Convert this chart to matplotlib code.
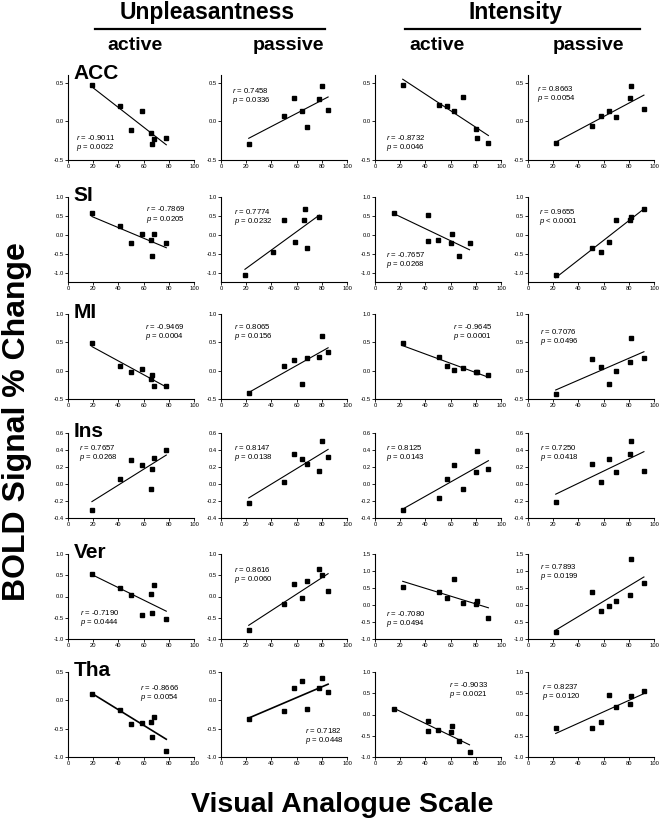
import matplotlib
matplotlib.use("Agg")
import matplotlib.pyplot as plt
import numpy as np
from matplotlib.ticker import FormatStrFormatter

plt.rcParams['font.family'] = 'Liberation Sans'
plt.rcParams['axes.unicode_minus'] = False
plt.rcParams['mathtext.fontset'] = 'custom'
plt.rcParams['mathtext.it'] = 'Liberation Sans:italic'
plt.rcParams['mathtext.rm'] = 'Liberation Sans'

# VAS ratings (x) per condition
vas_unp_act = [19, 41, 50, 59, 66, 67, 68, 78]
vas_unp_pas = [22, 50, 58, 64, 68, 78, 80, 85]
vas_int_act = [22, 51, 57, 63, 70, 80, 81, 90]
vas_int_act_b = [15, 42, 42, 50, 60, 61, 67, 75]
vas_int_pas = [22, 51, 58, 64, 70, 81, 82, 92]

regions = ['ACC', 'SI', 'MI', 'Ins', 'Ver', 'Tha']

# BOLD % change, columns: unp active, unp passive, int active, int passive
acc = [[0.47, 0.20, -0.11, 0.14, -0.15, -0.29, -0.23, -0.22],
       [-0.29, 0.07, 0.30, 0.13, -0.07, 0.29, 0.46, 0.15],
       [0.47, 0.21, 0.20, 0.13, 0.32, -0.10, -0.21, -0.28],
       [-0.28, -0.06, 0.07, 0.13, 0.06, 0.30, 0.46, 0.16]]
si = [[0.57, 0.23, -0.23, 0.02, -0.13, -0.56, 0.03, -0.21],
      [-1.06, -0.45, 0.40, -0.19, 0.38, 0.67, -0.34, 0.47],
      [0.57, 0.53, -0.17, -0.14, -0.23, 0.03, -0.56, -0.21],
      [-1.06, -0.35, -0.46, -0.20, 0.39, 0.40, 0.47, 0.67]]
mi = [[0.48, 0.08, -0.02, 0.03, -0.14, -0.07, -0.27, -0.27],
      [-0.40, 0.09, 0.18, -0.23, 0.22, 0.24, 0.61, 0.33],
      [0.48, 0.25, 0.08, 0.02, 0.05, -0.02, -0.03, -0.07],
      [-0.41, 0.21, 0.07, -0.23, -0.01, 0.16, 0.58, 0.22]]
ins = [[-0.30, 0.06, 0.28, 0.22, -0.06, 0.18, 0.31, 0.40],
       [-0.22, 0.02, 0.35, 0.30, 0.24, 0.15, 0.51, 0.32],
       [-0.30, -0.16, 0.06, 0.22, -0.06, 0.14, 0.39, 0.18],
       [-0.21, 0.24, 0.02, 0.30, 0.14, 0.35, 0.51, 0.15]]
ver = [[0.54, 0.21, 0.04, -0.44, 0.07, -0.38, 0.28, -0.52],
       [-0.79, -0.18, 0.29, -0.04, 0.37, 0.65, 0.50, 0.12],
       [0.54, 0.37, 0.20, 0.76, 0.06, 0.04, 0.11, -0.38],
       [-0.79, 0.37, -0.19, -0.04, 0.13, 0.30, 1.35, 0.64]]
tha = [[0.11, -0.17, -0.42, -0.40, -0.38, -0.64, -0.29, -0.89],
       [-0.33, -0.19, 0.21, 0.34, -0.16, 0.21, 0.39, 0.15],
       [0.12, -0.16, -0.39, -0.37, -0.41, -0.28, -0.63, -0.89],
       [-0.31, -0.32, -0.18, 0.46, 0.17, 0.24, 0.43, 0.55]]
bold = [acc, si, mi, ins, ver, tha]

# x data used in each panel
xs = [[vas_unp_act, vas_unp_pas, vas_int_act, vas_int_pas],
      [vas_unp_act, vas_unp_act, vas_int_act_b, vas_int_pas],
      [vas_unp_act, vas_unp_pas, vas_int_act, vas_int_pas],
      [vas_unp_act, vas_unp_pas, vas_int_act, vas_int_pas],
      [vas_unp_act, vas_unp_pas, vas_int_act, vas_int_pas],
      [vas_unp_act, vas_unp_pas, vas_int_act_b, vas_int_pas]]

r_txt = [['-0.9011', '0.7458', '-0.8732', '0.8663'],
         ['-0.7869', '0.7774', '-0.7657', '0.9655'],
         ['-0.9469', '0.8065', '-0.9645', '0.7076'],
         ['0.7657', '0.8147', '0.8125', '0.7250'],
         ['-0.7190', '0.8616', '-0.7080', '0.7893'],
         ['-0.8666', '0.7182', '-0.9033', '0.8237']]
p_txt = [['= 0.0022', '= 0.0336', '= 0.0046', '= 0.0054'],
         ['= 0.0205', '= 0.0232', '= 0.0268', '< 0.0001'],
         ['= 0.0004', '= 0.0156', '= 0.0001', '= 0.0496'],
         ['= 0.0268', '= 0.0138', '= 0.0143', '= 0.0418'],
         ['= 0.0444', '= 0.0060', '= 0.0494', '= 0.0199'],
         ['= 0.0054', '= 0.0448', '= 0.0021', '= 0.0120']]

# y axis range per panel
ylims = [[(-0.5, 0.6)] * 4,
         [(-1.25, 1.0)] * 4,
         [(-0.5, 1.0)] * 4,
         [(-0.4, 0.6)] * 4,
         [(-1.0, 1.0), (-1.0, 1.0), (-1.0, 1.5), (-1.0, 1.5)],
         [(-1.0, 0.5), (-1.0, 0.5), (-1.0, 1.0), (-1.0, 1.0)]]
ysteps = [0.5, 0.5, 0.5, 0.2, 0.5, 0.5]

# stats text position (axes fraction)
txt_pos = [[(0.066, 0.27), (0.085, 0.82), (0.09, 0.27), (0.075, 0.84)],
           [(0.62, 0.86), (0.10, 0.83), (0.09, 0.32), (0.088, 0.83)],
           [(0.615, 0.85), (0.10, 0.85), (0.62, 0.85), (0.093, 0.80)],
           [(0.085, 0.83), (0.10, 0.83), (0.09, 0.83), (0.093, 0.83)],
           [(0.093, 0.31), (0.10, 0.82), (0.09, 0.30), (0.093, 0.85)],
           [(0.57, 0.82), (0.67, 0.31), (0.585, 0.85), (0.115, 0.83)]]

W, H = 662, 826
fig = plt.figure(figsize=(W / 100, H / 100), dpi=100)

col_left = [68, 221, 375, 528]
row_bottom = [160, 282, 399, 518, 639, 757]
aw, ah = 126, 85

for i in range(6):
    for j in range(4):
        ax = fig.add_axes([col_left[j] / W, 1 - row_bottom[i] / H, aw / W, ah / H])
        x = np.array(xs[i][j], dtype=float)
        y = np.array(bold[i][j], dtype=float)
        ax.plot(x, y, 's', color='black', markersize=2.9)
        k, b = np.polyfit(x, y, 1)
        xl = np.array([x.min(), x.max()])
        lw = 1.2 if i == 5 and j < 2 else 0.8
        ax.plot(xl, k * xl + b, color='black', lw=lw)
        lo, hi = ylims[i][j]
        ax.set_xlim(0, 100)
        ax.set_ylim(lo, hi)
        ax.set_xticks(np.arange(0, 101, 20))
        yt = np.arange(lo if lo != -1.25 else -1.0, hi + 1e-6, ysteps[i])
        ax.set_yticks(np.round(yt, 2) + 0.0)
        ax.yaxis.set_major_formatter(FormatStrFormatter('%.1f'))
        for s in ['top', 'right']:
            ax.spines[s].set_visible(False)
        for s in ['left', 'bottom']:
            ax.spines[s].set_linewidth(0.8)
        ax.tick_params(direction='out', length=2, width=0.6, labelsize=4.2, pad=1)
        tx, ty = txt_pos[i][j]
        ax.text(tx, ty, r'$\mathit{r}$ = ' + r_txt[i][j], transform=ax.transAxes,
                fontsize=5.6, va='center', ha='left')
        ax.text(tx, ty - 0.12, r'$\mathit{p}$ ' + p_txt[i][j], transform=ax.transAxes,
                fontsize=5.6, va='center', ha='left')
        if j == 0:
            ax.text(0.045, 0.95, regions[i], transform=ax.transAxes, fontsize=15,
                    fontweight='bold', va='baseline', ha='left')

# headers
fig.text(207 / W, 1 - 12 / H, 'Unpleasantness', fontsize=16.5, fontweight='bold',
         ha='center', va='center')
fig.text(515 / W, 1 - 12 / H, 'Intensity', fontsize=16.5, fontweight='bold',
         ha='center', va='center')
fig.add_artist(plt.Line2D([95 / W, 325 / W], [1 - 29 / H, 1 - 29 / H], color='black', lw=1.6))
fig.add_artist(plt.Line2D([405 / W, 640 / W], [1 - 29 / H, 1 - 29 / H], color='black', lw=1.6))
for cx, lab in zip([135, 288, 437, 588], ['active', 'passive', 'active', 'passive']):
    fig.text(cx / W, 1 - 46 / H, lab, fontsize=14, fontweight='bold', ha='center', va='center')

fig.text(17 / W, 1 - 422 / H, 'BOLD Signal % Change', fontsize=23, fontweight='bold',
         rotation=90, ha='center', va='center')
fig.text(342 / W, 1 - 805 / H, 'Visual Analogue Scale', fontsize=20.5, fontweight='bold',
         ha='center', va='center')

fig.savefig('out.png', dpi=100)
